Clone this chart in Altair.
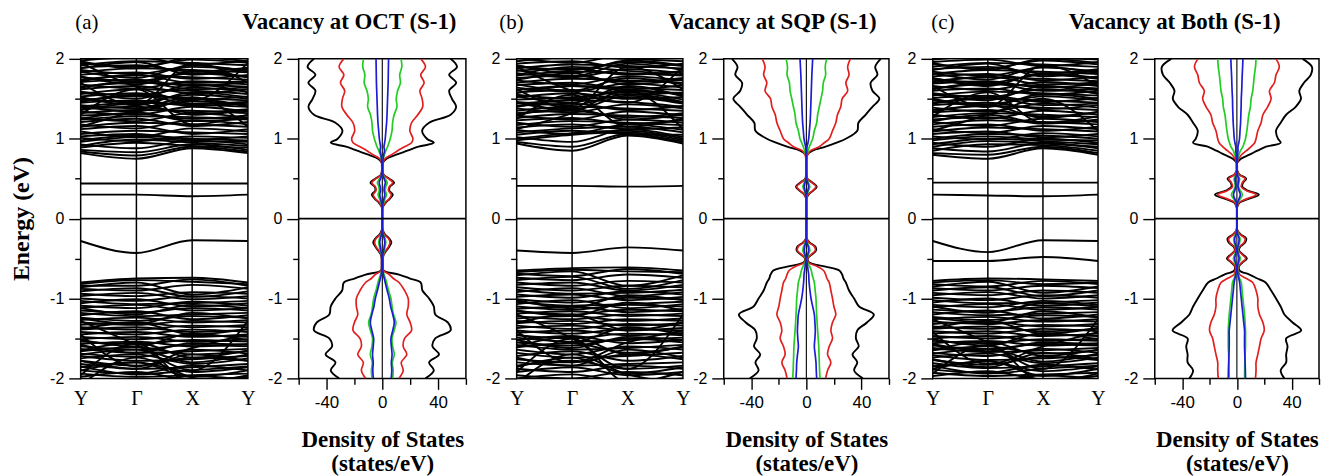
import altair as alt
import pandas as pd

# ---------------- DOS data (right half; left half is the mirror) ----------------
E_GRID = [-2.0, -1.9, -1.8, -1.7, -1.6, -1.5, -1.4, -1.3, -1.2, -1.1, -1.0, -0.9, -0.8,
          -0.75, -0.7, -0.65, -0.6, -0.55, -0.5, -0.45, -0.4, -0.35, -0.3, -0.25, -0.2, -0.15, -0.1,
          0.0,
          0.1, 0.15, 0.2, 0.25, 0.3, 0.35, 0.4, 0.45, 0.5, 0.55, 0.6, 0.65, 0.7, 0.75, 0.8, 0.85, 0.9, 0.95,
          1.0, 1.1, 1.2, 1.3, 1.4, 1.5, 1.6, 1.7, 1.8, 1.9, 2.0]

A_BLACK = [31, 37, 33.6, 40.7, 36, 38, 49, 47, 38, 37, 33.6, 28.8, 27.6,
           20, 12, 1, 0.5, 0.5, 0.5, 1, 3, 5, 6.5, 5, 2, 0.5, 0,
           0,
           0, 0.5, 2.5, 5.5, 7.5, 5, 5.5, 8.5, 5, 1, 0.3, 0.3, 0.5, 3, 10, 18, 26, 37,
           32, 28.6, 33.6, 49, 53, 50, 48, 53, 48, 53.6, 49]
A_RED = [12, 15, 13.6, 17.6, 15, 16, 21, 20, 17.6, 18.6, 18.6, 16, 12,
         8, 5, 0.8, 0.4, 0.4, 0.4, 0.8, 2.5, 4.5, 5.5, 4.5, 1.5, 0.4, 0,
         0,
         0, 0.4, 2, 5, 6.5, 4.5, 5, 7.5, 4.5, 0.8, 0.3, 0.3, 0.4, 2, 6.7, 11, 16, 21,
         22, 19.8, 21, 25.5, 29, 28.6, 27, 30, 27.6, 31, 27.6]
A_GREEN = [7.4, 7.8, 7.2, 8.6, 7.4, 7, 8.5, 9.8, 8, 7, 6.2, 4.5, 3.1,
           2.2, 1.2, 0.5, 0.3, 0.3, 0.3, 0.5, 1.5, 2, 2.5, 2, 0.8, 0.2, 0,
           0,
           0, 0.2, 1, 2, 3, 2.2, 2.5, 3.5, 2, 0.5, 0.2, 0.2, 0.3, 0.6, 1.5, 2.5, 3.8, 4.8,
           5.7, 7, 7.4, 8.5, 10.5, 10, 11, 13, 12.5, 14, 13.5]
A_BLUE = [6.4, 6.8, 6.5, 7, 6.5, 6.2, 7.5, 8.6, 7.5, 6, 5, 3.5, 2.1,
          1.4, 0.8, 0.4, 0.3, 0.3, 0.3, 0.4, 1, 1.4, 1.8, 1.4, 0.6, 0.2, 0,
          0,
          0, 0.2, 0.6, 1.2, 1.8, 1.3, 1.5, 2.2, 1.3, 0.4, 0.2, 0.2, 0.3, 0.6, 1, 1.6, 1.2, 1.7,
          2.1, 2.6, 3.1, 3.4, 3.6, 3.8, 4, 4.2, 4.3, 4.4, 4.5]

B_BLACK = [41, 34.7, 37, 33.5, 38, 36, 37, 44, 49, 38.3, 34.7, 31, 28.7,
           27, 26, 24, 14, 2, 1, 4, 7, 6.5, 2.5, 0.3, 0, 0, 0,
           0,
           0, 0, 0, 0.2, 1.5, 5, 7.5, 4.5, 0.8, 0.2, 0, 0, 0, 0.2, 0.5, 4.5, 14, 22,
           28.7, 37, 37.8, 43, 48, 53, 48, 46.7, 51.6, 50, 54]
B_RED = [14, 15.4, 17.8, 15.4, 16.6, 19, 17.8, 19, 21.4, 20, 19, 17.8, 16.6,
         15, 14, 12.5, 8, 1.5, 0.8, 3.5, 6.5, 5.8, 2, 0.2, 0, 0, 0,
         0,
         0, 0, 0, 0.2, 1.2, 4.5, 7, 4, 0.6, 0.2, 0, 0, 0, 0.3, 1, 3, 9.4, 13,
         16.6, 19, 21.4, 22.6, 25, 26, 30, 28.7, 31, 30, 32]
B_GREEN = [9.9, 9.6, 9.4, 9.2, 9, 8.6, 8.2, 7.8, 7.5, 7.2, 7, 6.4, 5.8,
           5, 4.2, 3.6, 2.5, 0.8, 0.5, 1.5, 2.5, 2, 0.7, 0.1, 0, 0, 0,
           0,
           0, 0, 0, 0, 0.5, 1.5, 2.5, 1.5, 0.3, 0, 0, 0, 0, 0.2, 0.5, 1.2, 2.2, 3.4,
           4.6, 5.8, 7.5, 8.2, 9.4, 10.6, 11.8, 12.3, 14, 13.7, 14.7]
B_BLUE = [7.5, 7.2, 7, 6.4, 5.8, 6.2, 6.5, 6.2, 5.8, 4.6, 3.4, 2.6, 2,
          1.8, 1.7, 1.3, 0.9, 0.5, 0.3, 1, 1.6, 1.3, 0.4, 0.1, 0, 0, 0,
          0,
          0, 0, 0, 0, 0.3, 1, 1.6, 1, 0.2, 0, 0, 0, 0, 0.1, 0.3, 0.3, 0.5, 1.2,
          1.7, 2.2, 2.7, 3, 3.2, 3.4, 3.6, 3.8, 4, 4.3, 4.6]

C_BLACK = [34.7, 32, 36, 36, 37, 36, 47, 40.7, 34.7, 32, 28.6, 25, 21,
           15, 9.2, 2, 1.5, 4, 7.3, 4.5, 1.5, 2.5, 6, 6.8, 3, 0.5, 0,
           0,
           0, 0.3, 2, 9, 16, 8, 3.9, 4.5, 6.8, 2, 0.3, 0.2, 0.3, 3, 9.2, 15, 21.3, 32,
           30, 28.6, 32, 36, 43, 46.8, 45.6, 49, 54, 54.8, 48]
C_RED = [13.6, 14, 14, 15.3, 16.5, 17.7, 20, 19, 16.5, 15.3, 15.3, 14, 11.6,
         7, 2, 1.2, 1.2, 3.5, 6.5, 4, 1.2, 2, 5.2, 6, 2.5, 0.4, 0,
         0,
         0, 0.2, 1.5, 7.5, 14, 7, 3.2, 4, 6, 1.8, 0.2, 0.2, 0.3, 1.5, 3.4, 7, 10.4, 13,
         14, 15.3, 17.7, 19, 22.5, 25, 23.8, 27.4, 28.6, 31, 28.6]
C_GREEN = [5.6, 5.7, 5.8, 6, 6.3, 6.3, 6.3, 6, 5.6, 5, 4.4, 3.8, 3.2,
           2, 1, 0.6, 0.6, 1.5, 2.5, 1.5, 0.6, 1, 2, 2.3, 1, 0.2, 0,
           0,
           0, 0.1, 0.6, 2.5, 4, 2.5, 1.2, 1.5, 2, 0.6, 0.1, 0.1, 0.2, 0.5, 1.5, 2.6, 4.4, 5.4,
           6.3, 7.3, 8, 8.7, 9.9, 10.4, 11.6, 12.2, 12.8, 13.6, 14]
C_BLUE = [6.3, 6.2, 6, 5.8, 5.6, 5.6, 5.6, 5, 4.4, 3.8, 3.2, 2.6, 2,
          1.4, 0.8, 0.4, 0.4, 1, 1.6, 1, 0.4, 0.7, 1.4, 1.6, 0.7, 0.1, 0,
          0,
          0, 0.1, 0.4, 1.6, 2.5, 1.6, 0.8, 1, 1.3, 0.4, 0.1, 0.1, 0.2, 0.5, 0.5, 0.8, 0.8, 1.4,
          1.9, 2.3, 2.7, 2.9, 3.1, 3.2, 3.5, 3.7, 3.9, 4.2, 4.4]

# ---------------- band data: energy at (Y, Gamma, X); path ends back at Y ----------------
A_GAP = [(0.44, 0.44, 0.44), (0.30, 0.30, 0.28), (-0.28, -0.43, -0.27)]
A_COND = [(0.82, 0.75, 0.88), (0.84, 0.79, 0.90), (0.86, 0.83, 0.93), (0.89, 0.95, 0.91),
          (0.91, 0.99, 0.95), (0.93, 0.88, 0.98), (0.96, 1.02, 0.97), (0.98, 1.04, 1.00),
          (1.01, 0.97, 1.03), (1.03, 1.06, 0.99), (1.06, 1.10, 1.08), (1.09, 1.02, 1.13),
          (1.12, 1.16, 1.06), (1.15, 1.20, 1.18), (1.18, 1.13, 1.23), (1.21, 1.25, 1.16),
          (1.24, 1.28, 1.27), (1.26, 1.22, 1.32), (1.29, 1.31, 1.25), (1.32, 1.36, 1.35),
          (1.34, 1.30, 1.40), (1.37, 1.40, 1.33), (1.40, 1.45, 1.43), (1.42, 1.38, 1.47),
          (1.45, 1.48, 1.41), (1.48, 1.53, 1.51), (1.50, 1.46, 1.55), (1.53, 1.57, 1.49),
          (1.56, 1.62, 1.60), (1.59, 1.54, 1.64), (1.62, 1.66, 1.57), (1.65, 1.70, 1.68),
          (1.68, 1.63, 1.72), (1.71, 1.74, 1.66), (1.74, 1.79, 1.77), (1.77, 1.72, 1.82),
          (1.80, 1.83, 1.75), (1.83, 1.88, 1.86), (1.86, 1.81, 1.90), (1.89, 1.92, 1.84),
          (1.92, 1.97, 1.95), (1.95, 1.90, 1.99), (1.98, 2.02, 1.93), (2.02, 2.06, 2.04),
          (1.30, 1.62, 1.18), (1.70, 1.42, 1.95), (1.15, 1.35, 1.52), (1.95, 1.65, 1.48),
          (1.36, 1.44, 1.30), (1.52, 1.42, 1.58), (1.64, 1.72, 1.62), (1.78, 1.68, 1.84),
          (1.88, 1.96, 1.80), (1.46, 1.55, 1.44), (1.58, 1.50, 1.68), (1.72, 1.80, 1.70),
          (1.84, 1.76, 1.92), (1.97, 1.88, 2.02), (1.25, 1.33, 1.22), (1.40, 1.34, 1.50)]
A_VAL = [(-0.80, -0.75, -0.74), (-0.82, -0.77, -0.79), (-0.84, -0.84, -0.76), (-0.86, -0.80, -0.95),
         (-0.88, -0.90, -0.83), (-0.91, -0.87, -0.98), (-0.94, -0.97, -0.92), (-0.97, -0.93, -1.01),
         (-1.00, -1.03, -0.97), (-1.03, -1.07, -1.06), (-1.06, -1.01, -1.10), (-1.09, -1.12, -1.04),
         (-1.12, -1.08, -1.15), (-1.15, -1.18, -1.12), (-1.18, -1.22, -1.20), (-1.21, -1.16, -1.26),
         (-1.24, -1.28, -1.22), (-1.27, -1.24, -1.30), (-1.30, -1.33, -1.28), (-1.33, -1.30, -1.36),
         (-1.36, -1.39, -1.34), (-1.39, -1.36, -1.42), (-1.42, -1.45, -1.39), (-1.45, -1.42, -1.48),
         (-1.48, -1.51, -1.46), (-1.51, -1.48, -1.54), (-1.54, -1.57, -1.52), (-1.57, -1.54, -1.60),
         (-1.60, -1.64, -1.58), (-1.63, -1.68, -1.66), (-1.66, -1.61, -1.70), (-1.69, -1.73, -1.64),
         (-1.72, -1.78, -1.76), (-1.75, -1.70, -1.82), (-1.78, -1.84, -1.74), (-1.82, -1.88, -1.86),
         (-1.86, -1.80, -1.92), (-1.90, -1.94, -1.84), (-1.94, -1.98, -1.96), (-1.98, -1.92, -2.02),
         (-2.02, -2.06, -1.97), (-1.96, -1.56, -2.06), (-1.45, -1.85, -1.62), (-2.08, -1.74, -1.99),
         (-1.28, -1.58, -1.90),
         (-1.25, -1.32, -1.18), (-1.38, -1.30, -1.45), (-1.52, -1.60, -1.44), (-1.65, -1.55, -1.74),
         (-1.78, -1.88, -1.70), (-1.90, -1.80, -1.98), (-1.12, -1.20, -1.08), (-1.58, -1.68, -1.56),
         (-1.70, -1.64, -1.80), (-1.85, -1.95, -1.90)]

B_GAP = [(0.41, 0.41, 0.40), (-0.40, -0.43, -0.36)]
B_COND = [(0.94, 0.85, 1.04), (0.96, 0.90, 1.06), (0.98, 1.05, 1.08), (1.00, 1.07, 1.10),
          (1.02, 0.96, 1.12), (1.05, 1.10, 1.06), (1.08, 1.13, 1.15), (1.11, 1.06, 1.18),
          (1.14, 1.18, 1.12), (1.17, 1.22, 1.20), (1.20, 1.15, 1.24), (1.23, 1.26, 1.19),
          (1.26, 1.31, 1.29), (1.29, 1.24, 1.34), (1.32, 1.35, 1.27), (1.35, 1.40, 1.38),
          (1.38, 1.33, 1.43), (1.41, 1.44, 1.36), (1.44, 1.49, 1.52), (1.46, 1.42, 1.56),
          (1.49, 1.52, 1.58), (1.52, 1.57, 1.50), (1.55, 1.50, 1.61), (1.58, 1.61, 1.55),
          (1.61, 1.66, 1.64), (1.64, 1.59, 1.69), (1.67, 1.70, 1.62), (1.70, 1.75, 1.73),
          (1.73, 1.68, 1.78), (1.76, 1.79, 1.71), (1.79, 1.84, 1.82), (1.82, 1.77, 1.87),
          (1.85, 1.88, 1.80), (1.88, 1.93, 1.91), (1.91, 1.86, 1.96), (1.94, 1.97, 1.89),
          (1.97, 2.02, 2.00), (2.01, 1.95, 2.05), (1.25, 1.55, 1.15), (1.62, 1.38, 1.90),
          (1.12, 1.32, 1.60), (1.90, 1.60, 1.45),
          (1.30, 1.38, 1.24), (1.45, 1.36, 1.54), (1.57, 1.66, 1.60), (1.68, 1.60, 1.76),
          (1.80, 1.90, 1.85), (1.92, 1.82, 1.98), (1.40, 1.48, 1.46), (1.53, 1.45, 1.66),
          (1.74, 1.82, 1.68), (1.86, 1.78, 1.94)]
B_VAL = [(-0.65, -0.62, -0.61), (-0.67, -0.64, -0.66), (-0.69, -0.72, -0.63), (-0.71, -0.66, -0.84),
         (-0.74, -0.77, -0.70), (-0.77, -0.73, -0.88), (-0.80, -0.84, -0.78), (-0.83, -0.80, -0.90),
         (-0.86, -0.90, -0.84), (-0.89, -0.94, -0.93), (-0.92, -0.87, -0.97), (-0.95, -0.99, -0.91),
         (-0.98, -0.95, -1.02), (-1.01, -1.05, -0.99), (-1.04, -1.09, -1.07), (-1.07, -1.02, -1.12),
         (-1.10, -1.14, -1.08), (-1.13, -1.10, -1.17), (-1.16, -1.20, -1.14), (-1.19, -1.16, -1.22),
         (-1.22, -1.26, -1.20), (-1.25, -1.22, -1.28), (-1.28, -1.32, -1.26), (-1.31, -1.28, -1.34),
         (-1.34, -1.38, -1.32), (-1.37, -1.34, -1.40), (-1.40, -1.44, -1.38), (-1.43, -1.40, -1.46),
         (-1.46, -1.50, -1.44), (-1.49, -1.54, -1.52), (-1.52, -1.47, -1.56), (-1.55, -1.59, -1.50),
         (-1.58, -1.64, -1.62), (-1.61, -1.56, -1.68), (-1.64, -1.70, -1.60), (-1.68, -1.74, -1.72),
         (-1.72, -1.66, -1.78), (-1.76, -1.80, -1.70), (-1.80, -1.84, -1.82), (-1.84, -1.78, -1.88),
         (-1.88, -1.92, -1.84), (-1.92, -1.86, -1.96), (-1.96, -2.00, -1.92), (-2.00, -1.95, -2.04),
         (-1.92, -1.50, -2.05), (-1.40, -1.80, -1.55), (-2.06, -1.70, -1.95), (-1.20, -1.50, -1.88),
         (-1.15, -1.22, -1.05), (-1.30, -1.20, -1.40), (-1.45, -1.55, -1.36), (-1.60, -1.48, -1.70),
         (-1.74, -1.84, -1.64), (-1.86, -1.74, -1.94), (-1.02, -1.12, -0.96), (-1.52, -1.62, -1.48)]

C_GAP = [(0.45, 0.45, 0.45), (0.30, 0.29, 0.28), (-0.28, -0.42, -0.27), (-0.53, -0.53, -0.48)]
C_COND = [(0.80, 0.75, 0.88), (0.82, 0.80, 0.90), (0.85, 0.93, 0.92), (0.88, 0.84, 0.95),
          (0.90, 0.97, 0.94), (0.93, 1.00, 0.97), (0.95, 0.90, 1.00), (0.98, 1.03, 0.99),
          (1.00, 1.06, 1.04), (1.03, 0.99, 1.07), (1.06, 1.09, 1.02), (1.09, 1.14, 1.12),
          (1.12, 1.07, 1.16), (1.15, 1.18, 1.10), (1.18, 1.23, 1.21), (1.21, 1.16, 1.25),
          (1.24, 1.27, 1.19), (1.27, 1.32, 1.30), (1.30, 1.25, 1.35), (1.33, 1.36, 1.28),
          (1.36, 1.41, 1.39), (1.39, 1.34, 1.44), (1.42, 1.45, 1.37), (1.45, 1.50, 1.48),
          (1.48, 1.43, 1.53), (1.51, 1.54, 1.46), (1.54, 1.59, 1.57), (1.57, 1.52, 1.62),
          (1.60, 1.63, 1.55), (1.63, 1.68, 1.66), (1.66, 1.61, 1.71), (1.69, 1.72, 1.64),
          (1.72, 1.77, 1.75), (1.75, 1.70, 1.80), (1.78, 1.81, 1.73), (1.81, 1.86, 1.84),
          (1.84, 1.79, 1.89), (1.87, 1.90, 1.82), (1.90, 1.95, 1.93), (1.93, 1.88, 1.98),
          (1.96, 1.99, 1.91), (1.99, 2.04, 2.02), (1.28, 1.58, 1.20), (1.66, 1.40, 1.92),
          (1.10, 1.30, 1.50),
          (1.34, 1.42, 1.26), (1.50, 1.40, 1.56), (1.62, 1.70, 1.60), (1.76, 1.66, 1.82),
          (1.86, 1.94, 1.78), (1.44, 1.52, 1.42), (1.56, 1.48, 1.66), (1.70, 1.78, 1.68),
          (1.82, 1.74, 1.90), (1.95, 1.86, 2.00), (1.22, 1.30, 1.20)]
C_VAL = [(-0.78, -0.75, -0.76), (-0.80, -0.77, -0.82), (-0.82, -0.85, -0.78), (-0.85, -0.79, -0.93),
         (-0.87, -0.90, -0.84), (-0.90, -0.86, -0.97), (-0.93, -0.96, -0.90), (-0.96, -0.92, -1.00),
         (-0.99, -1.02, -0.96), (-1.02, -1.06, -1.05), (-1.05, -1.00, -1.09), (-1.08, -1.11, -1.03),
         (-1.11, -1.07, -1.14), (-1.14, -1.17, -1.11), (-1.17, -1.21, -1.19), (-1.20, -1.15, -1.25),
         (-1.23, -1.27, -1.21), (-1.26, -1.23, -1.29), (-1.29, -1.32, -1.27), (-1.32, -1.29, -1.35),
         (-1.35, -1.38, -1.33), (-1.38, -1.35, -1.41), (-1.41, -1.44, -1.38), (-1.44, -1.41, -1.47),
         (-1.47, -1.50, -1.45), (-1.50, -1.47, -1.53), (-1.53, -1.56, -1.51), (-1.56, -1.53, -1.59),
         (-1.59, -1.63, -1.57), (-1.62, -1.67, -1.65), (-1.65, -1.60, -1.69), (-1.68, -1.72, -1.63),
         (-1.71, -1.77, -1.75), (-1.74, -1.69, -1.81), (-1.77, -1.83, -1.73), (-1.81, -1.87, -1.85),
         (-1.85, -1.79, -1.91), (-1.89, -1.93, -1.83), (-1.93, -1.97, -1.95), (-1.97, -1.91, -2.01),
         (-2.01, -2.05, -1.96), (-1.94, -1.58, -2.04), (-1.42, -1.82, -1.60), (-1.26, -1.55, -1.88),
         (-1.24, -1.30, -1.16), (-1.37, -1.28, -1.44), (-1.51, -1.59, -1.43), (-1.64, -1.54, -1.72),
         (-1.76, -1.86, -1.68), (-1.88, -1.78, -1.97), (-1.10, -1.18, -1.06), (-1.57, -1.66, -1.55),
         (-1.69, -1.63, -1.79), (-1.84, -1.94, -1.88)]

K_POS = [0, 1, 2, 3]
K_LABELS = ["Y", "Γ", "X", "Y"]
SYM_LINES = [1, 2]
E_TICKS = [-2, -1.5, -1, -0.5, 0, 0.5, 1, 1.5, 2]
DOS_TICKS = [-60, -40, -20, 0, 20, 40, 60]
CURVE_COLORS = ["#000000", "#e0201f", "#22cc22", "#1c1cd6"]
CURVE_WIDTHS = [1.9, 1.7, 1.7, 1.7]

SERIF = "Liberation Serif"
SANS = "Liberation Sans"

for arr in (A_BLACK, A_RED, A_GREEN, A_BLUE, B_BLACK, B_RED, B_GREEN, B_BLUE,
            C_BLACK, C_RED, C_GREEN, C_BLUE):
    assert len(arr) == len(E_GRID), len(arr)


def band_frame(groups):
    rows = []
    i = 0
    for group in groups:
        for (ey, eg, ex) in group:
            for k, e in zip(K_POS, (ey, eg, ex, ey)):
                rows.append({"band": i, "k": k, "E": e})
            i += 1
    return pd.DataFrame(rows)


def y_enc(title=None, min_extent=None, pad=7):
    kw = dict(values=E_TICKS,
              labelExpr="datum.value % 1 === 0 ? '' + datum.value : ''",
              tickSize={"condition": {"test": "datum.value % 1 === 0", "value": 12}, "value": 6},
              labelPadding=5, labelFont=SANS, labelFontSize=16, labelOverlap=False,
              labelFlush=False, title=title)
    if title is not None:
        kw.update(titleFont=SERIF, titleFontSize=24, titleFontWeight="bold", titlePadding=pad)
    if min_extent is not None:
        kw.update(minExtent=min_extent)
    return alt.Y("E:Q", scale=alt.Scale(domain=[-2, 2], nice=False, zero=False), axis=alt.Axis(**kw))


def band_chart(groups, label, dx, width, yaxis_kw):
    k_expr = "[" + ",".join("'%s'" % s for s in K_LABELS) + "][datum.value]"
    x = alt.X("k:Q", scale=alt.Scale(domain=[0, 3], nice=False, zero=False),
              axis=alt.Axis(values=K_POS, labelExpr=k_expr, ticks=False, labelPadding=10,
                            labelFont=SERIF, labelFontSize=20, labelFlush=False,
                            labelOverlap=False, title=None))
    y = y_enc(**yaxis_kw)
    lines = alt.Chart(band_frame(groups)).mark_line(
        color="black", strokeWidth=1.9, interpolate="monotone", clip=True
    ).encode(x=x, y=y, detail="band:N")
    vr = alt.Chart(pd.DataFrame({"k": SYM_LINES})).mark_rule(color="black", strokeWidth=1.5).encode(x=x)
    hr = alt.Chart(pd.DataFrame({"E": [0]})).mark_rule(color="black", strokeWidth=1.6).encode(y=y)
    return alt.layer(lines, vr, hr).properties(
        width=width, height=321,
        title=alt.TitleParams(label, anchor="start", frame="group", dx=dx, offset=1,
                              baseline="alphabetic", font=SERIF, fontSize=21,
                              fontWeight="normal", color="black"))


def dos_chart(curves, title, dx, width):
    x = alt.X("v:Q", scale=alt.Scale(domain=[-60, 60], nice=False, zero=False),
              axis=alt.Axis(values=DOS_TICKS,
                            labelExpr="datum.value % 40 === 0 ? '' + datum.value : ''",
                            tickSize={"condition": {"test": "datum.value % 40 === 0", "value": 11}, "value": 6},
                            labelPadding=5, labelFont=SANS, labelFontSize=17, labelFlush=False,
                            labelOverlap=False,
                            title=["Density of States", "(states/eV)"], titleFont=SERIF,
                            titleFontSize=23, titleFontWeight="bold", titlePadding=18,
                            titleLineHeight=25))
    y = y_enc()
    layers = [alt.Chart(pd.DataFrame({"v": [0]})).mark_rule(color="black", strokeWidth=1.1).encode(x=x)]
    for vals, col, w in zip(curves, CURVE_COLORS, CURVE_WIDTHS):
        rows = []
        for side in (1, -1):
            for e, v in zip(E_GRID, vals):
                rows.append({"E": e, "v": side * v, "side": side})
        layers.append(alt.Chart(pd.DataFrame(rows)).mark_line(
            color=col, strokeWidth=w, interpolate="catmull-rom", clip=True
        ).encode(x=x, y=y, detail="side:N", order="E:Q"))
    layers.append(alt.Chart(pd.DataFrame({"E": [0]})).mark_rule(color="black", strokeWidth=1.6).encode(y=y))
    return alt.layer(*layers).properties(
        width=width, height=321,
        title=alt.TitleParams(title, anchor="end", frame="group", dx=dx, offset=-1.5,
                              baseline="alphabetic", font=SERIF, fontSize=23,
                              fontWeight="bold", color="black"))


band_a = band_chart([A_GAP, A_COND, A_VAL], "(a)", -5.5, 168,
                    dict(title="Energy (eV)", min_extent=40, pad=7))
dos_a = dos_chart([A_BLACK, A_RED, A_GREEN, A_BLUE], "Vacancy at OCT (S-1)", -9.5, 168)
band_b = band_chart([B_GAP, B_COND, B_VAL], "(b)", -17.5, 167, dict(min_extent=48))
dos_b = dos_chart([B_BLACK, B_RED, B_GREEN, B_BLUE], "Vacancy at SQP (S-1)", -12.5, 166)
band_c = band_chart([C_GAP, C_COND, C_VAL], "(c)", -1.5, 166, dict(min_extent=41))
dos_c = dos_chart([C_BLACK, C_RED, C_GREEN, C_BLUE], "Vacancy at Both (S-1)", -38.5, 165)

pair_a = alt.hconcat(band_a, dos_a, spacing=51, bounds="flush")
pair_b = alt.hconcat(band_b, dos_b, spacing=41, bounds="flush")
pair_c = alt.hconcat(band_c, dos_c, spacing=57, bounds="flush")

chart = alt.hconcat(pair_a, pair_b, pair_c, spacing=0).properties(
    padding={"left": 1, "top": 1, "right": 0, "bottom": 0}
).configure_view(stroke="black", strokeWidth=1.5).configure_axis(
    domain=False, grid=False, tickColor="black", labelColor="black",
    titleColor="black", tickWidth=1.4
)

chart.save("out.html", embed_options={"renderer": "svg", "actions": False})
